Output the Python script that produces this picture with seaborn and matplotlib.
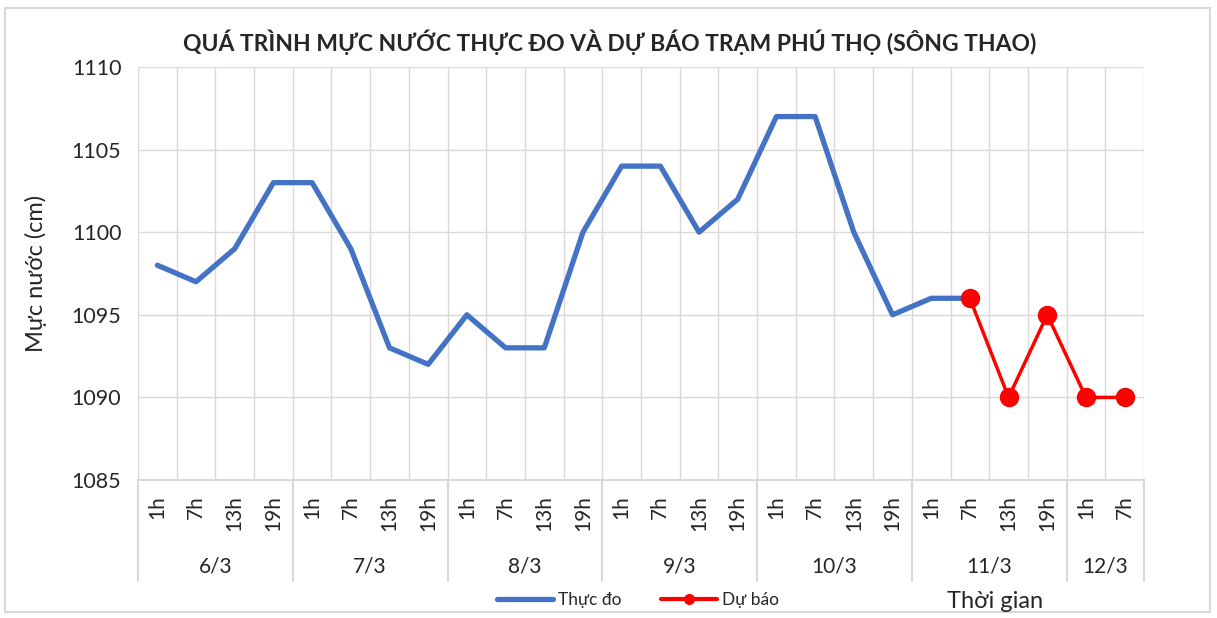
import numpy as np
import pandas as pd
import matplotlib.pyplot as plt
import seaborn as sns
from matplotlib.patches import Rectangle
from matplotlib.lines import Line2D

# data
days = ['6/3', '7/3', '8/3', '9/3', '10/3', '11/3', '12/3']
hours_per_day = [4, 4, 4, 4, 4, 4, 2]
hour_names = ['1h', '7h', '13h', '19h']
thuc_do = [1098, 1097, 1099, 1103, 1103, 1099, 1093, 1092, 1095, 1093, 1093, 1100,
           1104, 1104, 1100, 1102, 1107, 1107, 1100, 1095, 1096, 1096]
du_bao = [1096, 1090, 1095, 1090, 1090]

hour_labels = []
for n in hours_per_day:
    hour_labels += hour_names[:n]
n_cat = len(hour_labels)

df_obs = pd.DataFrame({'x': np.arange(len(thuc_do)), 'y': thuc_do})
start = len(thuc_do) - 1
df_fc = pd.DataFrame({'x': np.arange(start, start + len(du_bao)), 'y': du_bao})

sns.set_theme(style='white')
plt.rcParams['font.family'] = ['Lato', 'DejaVu Sans']

fig = plt.figure(figsize=(12.17, 6.18), dpi=100)
ax = fig.add_axes([138/1217, 1 - 480/618, (1144 - 138)/1217, (480 - 67)/618])

sns.lineplot(data=df_obs, x='x', y='y', ax=ax, color='#4472C4', linewidth=3.8)
sns.lineplot(data=df_fc, x='x', y='y', ax=ax, color='#FF0000', linewidth=2.5,
             marker='o', markersize=14, markeredgewidth=0)

ax.set_xlim(-0.5, n_cat - 0.5)
ax.set_ylim(1085, 1110)
ax.set_yticks(np.arange(1085, 1111, 5))
ax.set_xticks(np.arange(n_cat))
ax.set_xticklabels(hour_labels, rotation=90, fontsize=15, va='top')
ax.set_xticks(np.arange(-0.5, n_cat, 0.5), minor=True)
ax.tick_params(axis='x', which='both', length=0, pad=11)
ax.tick_params(axis='y', length=0, labelsize=15.5, pad=12)
ax.grid(True, which='minor', axis='x', color='#D9D9D9', linewidth=1)
ax.grid(True, which='major', axis='y', color='#D9D9D9', linewidth=1)
for s in ['top', 'right', 'left']:
    ax.spines[s].set_visible(False)
ax.spines['bottom'].set_color('#D9D9D9')
ax.spines['bottom'].set_linewidth(1.5)
ax.set_xlabel('')
ax.set_ylabel('Mực nước (cm)', fontsize=17, labelpad=18)

# day groups under the hour labels
trans = ax.get_xaxis_transform()
pos = -0.5
ax.plot([pos, pos], [0, -0.245], transform=trans, color='#D9D9D9', lw=1.5, clip_on=False)
for d, n in zip(days, hours_per_day):
    ax.text(pos + n / 2, -0.21, d, transform=trans, ha='center', va='center', fontsize=15)
    pos += n
    ax.plot([pos, pos], [0, -0.245], transform=trans, color='#D9D9D9', lw=1.5, clip_on=False)

fig.text(610/1217, 1 - 42/618, 'QUÁ TRÌNH MỰC NƯỚC THỰC ĐO VÀ DỰ BÁO TRẠM PHÚ THỌ (SÔNG THAO)',
         ha='center', va='center', fontsize=16.5, fontweight='bold')
fig.text(995/1217, 1 - 601/618, 'Thời gian', ha='center', va='center', fontsize=17)

handles = [Line2D([], [], color='#4472C4', lw=3.8),
           Line2D([], [], color='#FF0000', lw=3, marker='o', markersize=7)]
fig.legend(handles, ['Thực đo', 'Dự báo'], loc='center', bbox_to_anchor=(638/1217, 1 - 600/618),
           ncol=2, frameon=False, fontsize=12.5, handlelength=3.2, columnspacing=2.3,
           handletextpad=0.3)

fig.patches.append(Rectangle((5/1217, 6/618), 1205/1217, 604/618, transform=fig.transFigure,
                             fill=False, edgecolor='#D9D9D9', linewidth=1.5))

plt.savefig('out.png', dpi=100)
